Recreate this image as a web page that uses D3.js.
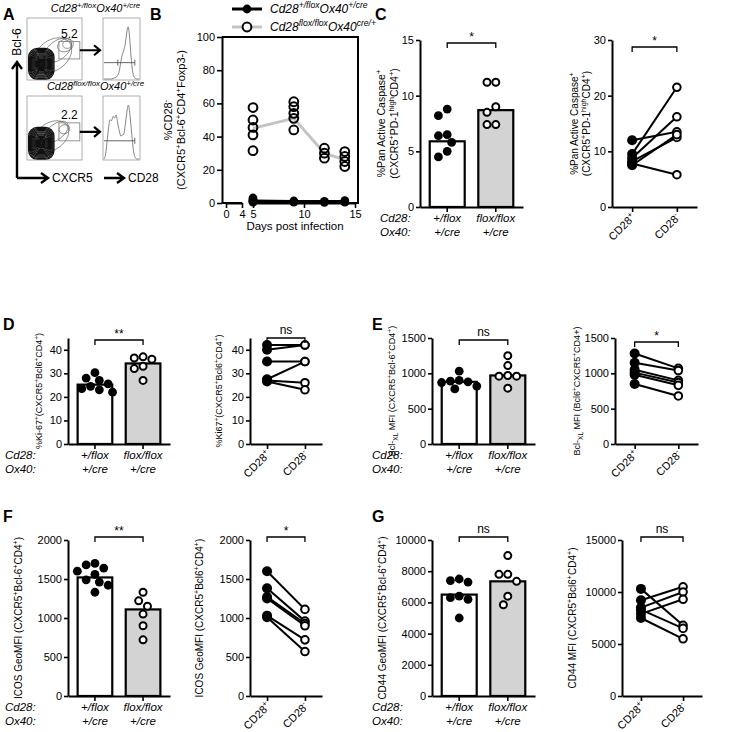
<!DOCTYPE html>
<html><head><meta charset="utf-8">
<script src="https://cdn.jsdelivr.net/npm/d3@7/dist/d3.min.js"></script>
<style>
body{margin:0;background:#fff;}
svg text{font-family:"Liberation Sans",Arial,Helvetica,sans-serif;fill:#000;}
</style></head>
<body><svg id="fig" width="738" height="732" xmlns="http://www.w3.org/2000/svg"></svg>
<script>
// ---------------- DATA ----------------
// Panel A (flow cytometry, fractional data units)
const histTop = [0,0,0,0,0,0,0.01,0.02,0.03,0.06,0.12,0.3,0.45,0.5,0.62,0.85,1.0,0.7,0.3,0.08,0.02,0,0,0];
const histBot = [0,0.04,0.3,0.55,0.72,0.62,0.78,0.66,0.82,0.6,0.5,0.36,0.44,0.38,0.6,0.8,1.0,0.78,0.5,0.2,0.04,0,0,0];
const flowLabels = ['Cd28^{+/flox}Ox40^{+/cre}', 'Cd28^{flox/flox}Ox40^{+/cre}'];
const flowPct = ['5.2', '2.2'];
const coreLevels = [1,0.93,0.86,0.79,0.72,0.65,0.58,0.51,0.44,0.37,0.3,0.23,0.16,0.09];
const tailTop = [[0.47,0.6,0.38,0.24,-38],[0.56,0.52,0.29,0.15,-38],[0.7,0.44,0.15,0.1,-25],[0.73,0.43,0.08,0.06,0]];
const tailBot = [[0.44,0.63,0.35,0.21,-35],[0.53,0.56,0.26,0.12,-38],[0.68,0.52,0.1,0.07,-20]];

// Panel B
const daysB = [5, 9, 12, 14];
const ctrlB = [[3,2,1.5,1,0.5],[1.2,0.5],[1,0.4],[1.4,0.5]];
const koB = [[57.5,50,45.5,41,31.5],[61,58,54,51,44],[33,30,27],[31,28,25,22]];
const ctrlMeanB = [1, 0.8, 0.8, 0.8];
const koMeanB = [45, 51, 30, 26];
const xTicksB1 = [0, 4], xTicksB2 = [5, 10, 15], yTicksB = [0,20,40,60,80,100];
const legendB = ['Cd28^{+/flox}Ox40^{+/cre}', 'Cd28^{flox/flox}Ox40^{cre/+}'];

// categories
const cd28Geno = ['+/flox', 'flox/flox'];
const ox40Geno = ['+/cre', '+/cre'];
const pairCats = ['CD28^{+}', 'CD28^{-}'];

// Panel C
const caspCtrl = [8.2, 8.8, 6.5, 6.4, 5.8, 5.0, 4.5];
const caspKo = [11.2, 11.2, 9.0, 8.5, 7.4, 7.4];
const caspBars = [5.9, 8.7];
const caspPlus = [12.0, 9.5, 8.8, 8.2, 7.5, 7.8];
const caspMinus = [13.5, 21.5, 16.2, 12.5, 13.0, 5.8];
// Panel D
const kiCtrl = [30.3, 28.0, 27.0, 25.5, 24.5, 23.5, 23.0, 22.0];
const kiKo = [37.0, 36.0, 36.5, 33.0, 32.0, 27.0];
const kiBars = [25.2, 34.2];
const kiPlus = [42, 40, 35, 27.5, 27, 26.5];
const kiMinus = [42, 42, 35, 35, 26, 23];
// Panel E
const bclCtrl = [1030, 900, 890, 880, 870, 820, 780];
const bclKo = [1250, 1110, 970, 960, 960, 790];
const bclBars = [880, 970];
const bclPlus = [1280, 1150, 1050, 1010, 980, 850];
const bclMinus = [1070, 1040, 900, 870, 830, 680];
// Panel F
const icosCtrl = [1700, 1680, 1640, 1600, 1560, 1490, 1460, 1420, 1330];
const icosKo = [1330, 1220, 1150, 1050, 900, 720];
const icosBars = [1520, 1110];
const icosPlus = [1600, 1380, 1270, 1250, 1030, 1010];
const icosMinus = [1110, 960, 930, 900, 720, 570];
// Panel G
const cd44Ctrl = [7500, 7400, 7300, 6400, 6300, 6200, 5000];
const cd44Ko = [9000, 7800, 7800, 7350, 6400, 5850];
const cd44Bars = [6500, 7350];
const cd44Plus = [10300, 9200, 8500, 8300, 7900, 7500];
const cd44Minus = [6800, 10500, 10000, 6500, 9300, 5500];

// ---------------- HELPERS ----------------
const svg = d3.select('#fig');
svg.append('rect').attr('width',738).attr('height',732).attr('fill','#fff');
const GRAY = '#d3d3d3';
const R = 4.4;
const TFS = 11;
const fmt = d3.format('d');

function rich(parent, str, fs, attrs={}) {
  const t = parent.append('text').attr('font-size', fs);
  Object.entries(attrs).forEach(([k,v])=>t.attr(k,v));
  const parts = str.split(/(\^\{[^}]*\}|_\{[^}]*\})/).filter(s=>s.length);
  let shift = 0;
  parts.forEach(p=>{
    let type='n', s=p;
    if(p.startsWith('^{')){type='sup';s=p.slice(2,-1);}
    else if(p.startsWith('_{')){type='sub';s=p.slice(2,-1);}
    const target = type==='sup'? -fs*0.38 : type==='sub'? fs*0.28 : 0;
    t.append('tspan').attr('dy', (target-shift).toFixed(2)).attr('font-size', type==='n'?fs:fs*0.72).text(s);
    shift = target;
  });
  return t;
}
function styleAxis(sel){
  sel.select('.domain').attr('stroke','#000').attr('stroke-width',2);
  sel.selectAll('.tick line').attr('stroke','#000').attr('stroke-width',1.6);
  sel.selectAll('.tick text').attr('font-size',TFS).attr('fill','#000');
}
function letter(t,x,y){ svg.append('text').attr('x',x).attr('y',y).attr('font-size',16).attr('font-weight','bold').text(t); }
function bracket(g,x1,x2,y,label){
  g.append('path').attr('d',`M${x1},${y+5}V${y}H${x2}V${y+5}`).attr('fill','none').attr('stroke','#000').attr('stroke-width',1.3);
  g.append('text').attr('x',(x1+x2)/2).attr('y',label==='ns'? y-4 : y-2).attr('text-anchor','middle')
    .attr('font-size',12).text(label);
}
function yTitle(lines,x,yc,fs){
  lines.forEach((L,i)=>{
    const g = svg.append('g').attr('transform',`translate(${x+i*(fs+2)},${yc}) rotate(-90)`);
    rich(g,L,fs,{'text-anchor':'middle'});
  });
}
function swarm(vals,y,cx,r){
  const placed=[];
  vals.map(v=>v).sort((a,b)=>b-a).forEach(v=>{
    const py=y(v); const offs=[0];
    for(let k=1;k<10;k++){offs.push(-k*r*1.0, k*r*1.0);}
    let px=cx;
    for(const o of offs){const tx=cx+o; if(placed.every(p=>Math.hypot(p.x-tx,p.y-py)>=2*r*0.98)){px=tx;break;}}
    placed.push({x:px,y:py});
  });
  return placed;
}

function barPanel(o){
  const g=svg.append('g');
  const y=d3.scaleLinear().domain([0,o.max]).range([o.y0,o.yTop]);
  const x=d3.scaleBand().domain([0,1]).range([o.ax,o.xEnd]).paddingInner(0.28).paddingOuter(0.2);
  g.selectAll('rect.bar').data(o.bars).join('rect').attr('class','bar')
    .attr('x',(d,i)=>x(i)).attr('width',x.bandwidth()).attr('y',d=>y(d)).attr('height',d=>y(0)-y(d))
    .attr('fill',(d,i)=>i?GRAY:'#fff').attr('stroke','#000').attr('stroke-width',2.2);
  [o.a,o.b].forEach((vals,i)=>{
    const pos=swarm(vals,y,x(i)+x.bandwidth()/2,R);
    g.selectAll(null).data(pos).join('circle').attr('cx',d=>d.x).attr('cy',d=>d.y)
      .attr('r',i?R-0.9:R).attr('fill',i?'#fff':'#000').attr('stroke','#000').attr('stroke-width',i?2:0);
  });
  g.append('g').attr('transform',`translate(${o.ax},0)`)
    .call(d3.axisLeft(y).tickValues(o.ticks).tickFormat(fmt).tickSize(4).tickPadding(2).tickSizeOuter(0)).call(styleAxis);
  g.append('g').attr('transform',`translate(0,${o.y0})`)
    .call(d3.axisBottom(x).tickSize(5).tickSizeOuter(0).tickFormat('')).call(styleAxis);
  const c=i=>x(i)+x.bandwidth()/2;
  bracket(g,c(0),c(1),o.bracketY,o.sig);
  const ly=o.y0+15;
  g.append('text').attr('x',o.labX).attr('y',ly).attr('font-size',11.5).attr('font-style','italic').text('Cd28:');
  g.append('text').attr('x',o.labX).attr('y',ly+14).attr('font-size',11.5).attr('font-style','italic').text('Ox40:');
  cd28Geno.forEach((t,i)=>g.append('text').attr('x',c(i)).attr('y',ly).attr('text-anchor','middle').attr('font-size',11.5).attr('font-style','italic').text(t));
  ox40Geno.forEach((t,i)=>g.append('text').attr('x',c(i)).attr('y',ly+14).attr('text-anchor','middle').attr('font-size',11.5).attr('font-style','italic').text(t));
  yTitle(o.title,o.tx,(o.y0+o.yTop)/2,o.tfs||10);
}

function pairedPanel(o){
  const g=svg.append('g');
  const y=d3.scaleLinear().domain([0,o.max]).range([o.y0,o.yTop]);
  const x=d3.scalePoint().domain(pairCats).range([o.ax,o.xEnd]).padding(0.45);
  const xa=x(pairCats[0]), xb=x(pairCats[1]);
  g.selectAll('line.pair').data(o.plus).join('line').attr('class','pair')
    .attr('x1',xa).attr('x2',xb).attr('y1',d=>y(d)).attr('y2',(d,i)=>y(o.minus[i]))
    .attr('stroke','#000').attr('stroke-width',2);
  g.selectAll('circle.p').data(o.plus).join('circle').attr('class','p').attr('cx',xa).attr('cy',d=>y(d)).attr('r',R+0.6).attr('fill','#000');
  g.selectAll('circle.m').data(o.minus).join('circle').attr('class','m').attr('cx',xb).attr('cy',d=>y(d)).attr('r',R-0.6)
    .attr('fill','#fff').attr('stroke','#000').attr('stroke-width',2);
  g.append('g').attr('transform',`translate(${o.ax},0)`)
    .call(d3.axisLeft(y).tickValues(o.ticks).tickFormat(fmt).tickSize(4).tickPadding(2).tickSizeOuter(0)).call(styleAxis);
  g.append('g').attr('transform',`translate(0,${o.y0})`)
    .call(d3.axisBottom(x).tickSize(5).tickSizeOuter(0).tickFormat('')).call(styleAxis);
  pairCats.forEach(c=>{
    const gg=g.append('g').attr('transform',`translate(${x(c)+4},${o.y0+11}) rotate(-45)`);
    rich(gg,c,11,{'text-anchor':'end'});
  });
  bracket(g,xa,xb,o.bracketY,o.sig);
  yTitle(o.title,o.tx,(o.y0+o.yTop)/2,o.tfs||10);
}

// ---------------- PANEL A ----------------
letter('A',3,20);
(function(){
  const rows=[{t:18,b:80,lab:12},{t:96,b:160,lab:90}];
  const sx0=27, sx1=82, hx0=103, hx1=140;
  const tails=[tailTop,tailBot], hists=[histTop,histBot], gates=[[0.58,0.96,0.38,0.66],[0.58,0.96,0.42,0.7]];
  rows.forEach((r,k)=>{
    const g=svg.append('g');
    rich(g,flowLabels[k],11,{x:(sx0+hx1)/2+12,y:r.lab,'text-anchor':'middle','font-style':'italic'});
    const fx=d3.scaleLinear().domain([0,1]).range([sx0,sx1]);
    const fy=d3.scaleLinear().domain([0,1]).range([r.t,r.b]);
    const cid='clip'+k;
    g.append('clipPath').attr('id',cid).append('rect').attr('x',sx0).attr('y',r.t).attr('width',sx1-sx0).attr('height',r.b-r.t);
    const cg=g.append('g').attr('clip-path',`url(#${cid})`);
    tails[k].forEach(e=>cg.append('ellipse').attr('cx',fx(e[0])).attr('cy',fy(e[1])).attr('rx',(sx1-sx0)*e[2]).attr('ry',(r.b-r.t)*e[3])
      .attr('transform',`rotate(${e[4]},${fx(e[0])},${fy(e[1])})`).attr('fill','none').attr('stroke','#555').attr('stroke-width',0.6));
    coreLevels.forEach((l,j)=>cg.append('rect').attr('x',fx(0.26-0.23*l)).attr('y',fy(0.74-0.25*l)).attr('width',(sx1-sx0)*0.46*l).attr('height',(r.b-r.t)*0.5*l)
      .attr('rx',(sx1-sx0)*0.16*l).attr('fill',j>9?'#333':'none').attr('stroke','#111').attr('stroke-width',1.3));
    g.append('rect').attr('x',sx0).attr('y',r.t).attr('width',sx1-sx0).attr('height',r.b-r.t).attr('fill','none').attr('stroke','#999').attr('stroke-width',0.8);
    const gt=gates[k];
    g.append('rect').attr('x',fx(gt[0])).attr('y',fy(gt[2])).attr('width',fx(gt[1])-fx(gt[0])).attr('height',fy(gt[3])-fy(gt[2]))
      .attr('fill','none').attr('stroke','#888').attr('stroke-width',0.9);
    g.append('text').attr('x',fx((gt[0]+gt[1])/2)).attr('y',fy(gt[2])-4).attr('text-anchor','middle').attr('font-size',12).text(flowPct[k]);
    const ay=fy((gt[2]+gt[3])/2);
    g.append('path').attr('d',`M${fx(gt[1])},${ay}H${hx0-3}M${hx0-9},${ay-5}L${hx0-3},${ay}L${hx0-9},${ay+5}`)
      .attr('fill','none').attr('stroke','#000').attr('stroke-width',2.2);
    // histogram
    g.append('rect').attr('x',hx0).attr('y',r.t).attr('width',hx1-hx0).attr('height',r.b-r.t).attr('fill','none').attr('stroke','#999').attr('stroke-width',0.8);
    const hx=d3.scaleLinear().domain([0,hists[k].length-1]).range([hx0+1,hx1-1]);
    const hy=d3.scaleLinear().domain([0,1]).range([r.b-1,r.t+5]);
    g.append('path').datum(hists[k]).attr('d',d3.line().x((d,i)=>hx(i)).y(d=>hy(d)).curve(d3.curveBasis))
      .attr('fill','none').attr('stroke','#777').attr('stroke-width',0.9);
    const gy=r.t+(r.b-r.t)*(k?0.7:0.72);
    const gx0=hx0+1, gx1=hx0+(hx1-hx0)*0.86;
    g.append('path').attr('d',`M${gx0},${gy}H${gx1}M${gx1},${gy-3}V${gy+3}`+(k?'':`M${hx0+(hx1-hx0)*0.4},${gy-3}V${gy+3}`))
      .attr('stroke','#555').attr('stroke-width',0.9).attr('fill','none');
  });
  // big axis arrows
  const ax=17;
  svg.append('path').attr('d',`M${ax},178V62M${ax-5},69L${ax},62L${ax+5},69M${ax},178H48M41,173L48,178L41,183`)
    .attr('fill','none').attr('stroke','#000').attr('stroke-width',2.4);
  const bg=svg.append('g').attr('transform',`translate(${ax+4},42) rotate(-90)`);
  bg.append('text').attr('text-anchor','middle').attr('font-size',12).text('Bcl-6');
  svg.append('text').attr('x',52).attr('y',182).attr('font-size',12).text('CXCR5');
  svg.append('path').attr('d',`M${hx0+1},178H${hx0+21}M${hx0+14},173L${hx0+21},178L${hx0+14},183`)
    .attr('fill','none').attr('stroke','#000').attr('stroke-width',2.4);
  svg.append('text').attr('x',hx0+25).attr('y',182).attr('font-size',12).text('CD28');
})();

// ---------------- PANEL B ----------------
letter('B',150,20);
(function(){
  const ax=222, top=37, bot=203, right=358;
  const g=svg.append('g');
  const y=d3.scaleLinear().domain([0,100]).range([bot,top]);
  const x1=d3.scaleLinear().domain([0,4]).range([ax+4,ax+20]);
  const x2=d3.scaleLinear().domain([5,15]).range([ax+31,right-3]);
  g.append('path').attr('d',`M${ax},${top}H${right}V${bot}H${x2(5)}`).attr('fill','none').attr('stroke','#000').attr('stroke-width',2);
  g.append('g').attr('transform',`translate(${ax},0)`).call(d3.axisLeft(y).tickValues(yTicksB).tickFormat(fmt).tickSize(5).tickPadding(2).tickSizeOuter(0)).call(styleAxis);
  g.append('path').attr('d',`M${ax},${bot}H${x1(4)}`).attr('stroke','#000').attr('stroke-width',2);
  g.append('g').attr('transform',`translate(0,${bot})`).call(d3.axisBottom(x1).tickValues(xTicksB1).tickFormat(fmt).tickSize(5).tickPadding(2).tickSizeOuter(0)).call(styleAxis);
  g.append('g').attr('transform',`translate(0,${bot})`).call(d3.axisBottom(x2).tickValues(xTicksB2).tickFormat(fmt).tickSize(5).tickPadding(2).tickSizeOuter(0)).call(styleAxis);
  const line=d3.line().x((d,i)=>x2(daysB[i])).y(d=>y(d));
  g.append('path').datum(koMeanB).attr('d',line).attr('fill','none').attr('stroke','#c4c4c4').attr('stroke-width',3);
  g.append('path').datum(ctrlMeanB).attr('d',line).attr('fill','none').attr('stroke','#000').attr('stroke-width',3.5);
  daysB.forEach((d,i)=>{
    g.selectAll(null).data(ctrlB[i]).join('circle').attr('cx',x2(d)).attr('cy',v=>y(v)).attr('r',R).attr('fill','#000');
    g.selectAll(null).data(koB[i]).join('circle').attr('cx',x2(d)).attr('cy',v=>y(v)).attr('r',R).attr('fill','none').attr('stroke','#000').attr('stroke-width',2);
  });
  svg.append('text').attr('x',(ax+right)/2+5).attr('y',230).attr('text-anchor','middle').attr('font-size',11.5).text('Days post infection');
  yTitle(['%CD28^{-}','(CXCR5^{+}Bcl-6^{+}CD4^{+}Foxp3-)'],172,(top+bot)/2,11);
  // legend
  [[9,'#000',true],[27,'#c4c4c4',false]].forEach((L,i)=>{
    g.append('line').attr('x1',232).attr('x2',262).attr('y1',L[0]).attr('y2',L[0]).attr('stroke',L[1]).attr('stroke-width',3);
    g.append('circle').attr('cx',247).attr('cy',L[0]).attr('r',R).attr('fill',L[2]?'#000':'#fff').attr('stroke','#000').attr('stroke-width',L[2]?0:2);
    rich(g,legendB[i],12,{x:270,y:L[0]+4,'font-style':'italic'});
  });
})();

// ---------------- PANEL C ----------------
letter('C',375,20);
barPanel({ax:420,xEnd:523,y0:207,yTop:40,max:15,ticks:[0,5,10,15],bars:caspBars,a:caspCtrl,b:caspKo,sig:'*',bracketY:43,labX:380,
  title:['%Pan Active Caspase^{+}','(CXCR5^{+}PD-1^{high}CD4^{+})'],tx:385,tfs:10.5});
pairedPanel({ax:612,xEnd:697,y0:207,yTop:40,max:30,ticks:[0,10,20,30],plus:caspPlus,minus:caspMinus,sig:'*',bracketY:47,
  title:['%Pan Active Caspase^{+}','(CXCR5^{+}PD-1^{high}CD4^{+})'],tx:578,tfs:10});

// ---------------- PANEL D ----------------
letter('D',3,330);
barPanel({ax:68,xEnd:170,y0:444,yTop:338,max:45,ticks:[0,10,20,30,40],bars:kiBars,a:kiCtrl,b:kiKo,sig:'**',bracketY:340,labX:5,
  title:['%Ki-67^{+}(CXCR5^{+}Bcl6^{+}CD4^{+})'],tx:42,tfs:9});
pairedPanel({ax:250,xEnd:322,y0:444,yTop:338,max:45,ticks:[0,10,20,30,40],plus:kiPlus,minus:kiMinus,sig:'ns',bracketY:338,
  title:['%Ki67^{+}(CXCR5^{+}Bcl6^{+}CD4^{+})'],tx:222,tfs:9});

// ---------------- PANEL E ----------------
letter('E',372,330);
barPanel({ax:432,xEnd:535,y0:444,yTop:338,max:1500,ticks:[0,500,1000,1500],bars:bclBars,a:bclCtrl,b:bclKo,sig:'ns',bracketY:340,labX:372,
  title:['Bcl-_{XL} MFI (CXCR5^{+}Bcl-6^{+}CD4^{+})'],tx:395,tfs:9});
pairedPanel({ax:615,xEnd:698,y0:444,yTop:338,max:1500,ticks:[0,500,1000,1500],plus:bclPlus,minus:bclMinus,sig:'*',bracketY:342,
  title:['Bcl-_{XL} MFI (Bcl6^{+}CXCR5^{+}CD4+)'],tx:580,tfs:9});

// ---------------- PANEL F ----------------
letter('F',3,522);
barPanel({ax:68,xEnd:170,y0:696,yTop:540,max:2000,ticks:[0,500,1000,1500,2000],bars:icosBars,a:icosCtrl,b:icosKo,sig:'**',bracketY:537,labX:5,
  title:['ICOS GeoMFI (CXCR5^{+}Bcl-6^{+}CD4^{+})'],tx:22,tfs:10});
pairedPanel({ax:250,xEnd:322,y0:696,yTop:540,max:2000,ticks:[0,500,1000,1500,2000],plus:icosPlus,minus:icosMinus,sig:'*',bracketY:537,
  title:['ICOS GeoMFI (CXCR5^{+}Bcl6^{+}CD4^{+})'],tx:203,tfs:10});

// ---------------- PANEL G ----------------
letter('G',372,522);
barPanel({ax:432,xEnd:535,y0:696,yTop:540,max:10000,ticks:[0,2000,4000,6000,8000,10000],bars:cd44Bars,a:cd44Ctrl,b:cd44Ko,sig:'ns',bracketY:537,labX:372,
  title:['CD44 GeoMFI (CXCR5^{+}Bcl-6^{+}CD4^{+})'],tx:386,tfs:10});
pairedPanel({ax:622,xEnd:702,y0:696,yTop:540,max:15000,ticks:[0,5000,10000,15000],plus:cd44Plus,minus:cd44Minus,sig:'ns',bracketY:537,
  title:['CD44 MFI (CXCR5^{+}Bcl6^{+}CD4^{+})'],tx:576,tfs:10});
</script></body></html>
